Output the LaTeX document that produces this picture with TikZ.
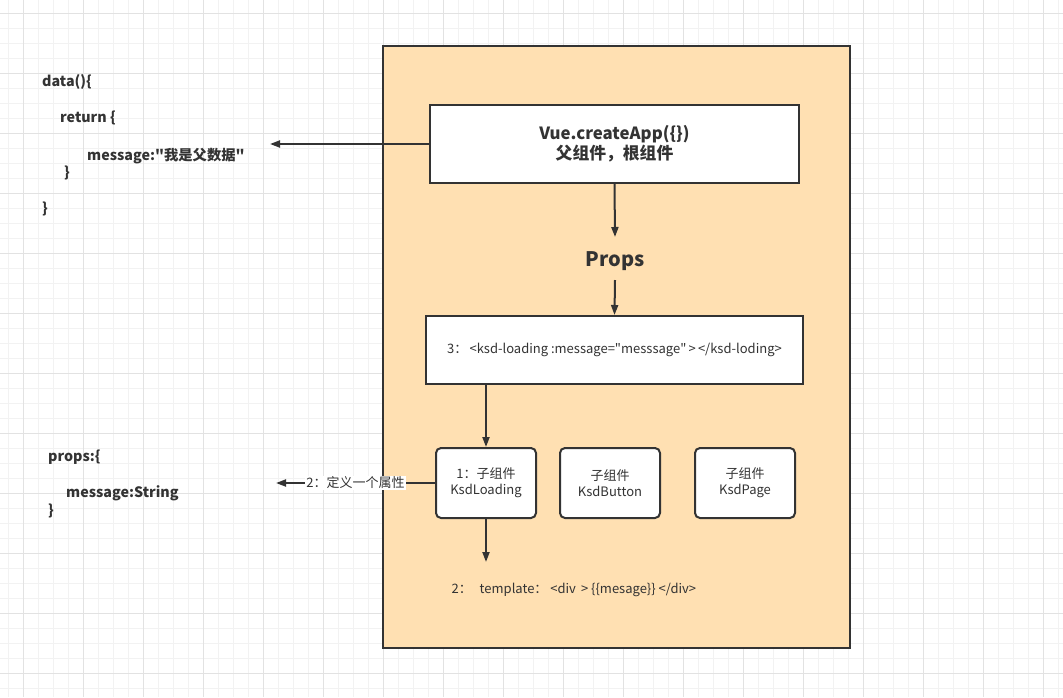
\documentclass[tikz,border=0pt]{standalone}
\usepackage{fontspec}
\setmainfont{Noto Sans CJK SC}[Ligatures=TeXOff]
\usetikzlibrary{arrows.meta}
\newcommand\dq{\symbol{34}}
\definecolor{ink}{HTML}{333333}
\definecolor{peach}{HTML}{FFE0B2}
\definecolor{gridminor}{HTML}{F2F2F2}
\definecolor{gridmajor}{HTML}{E2E2E2}
\tikzset{
  conn/.style={draw=ink, line width=2pt, -{Triangle[length=10pt,width=7pt]}},
  boxw/.style={draw=ink, line width=2pt, fill=white},
  child/.style={boxw, rounded corners=5pt, minimum width=100pt, minimum height=70pt, align=center, font=\fontsize{13}{16}\selectfont, text=ink},
  code/.style={anchor=west, font=\fontsize{14.3}{16}\selectfont\bfseries, text=ink, inner sep=0pt},
}
\begin{document}
\begin{tikzpicture}[x=1pt,y=-1pt]
\useasboundingbox (0,0) rectangle (1063,697);
\fill[white] (0,0) rectangle (1063,697);
% grid
\foreach \i in {0,...,70} {
  \draw[gridminor, line width=1pt] (8.3+15*\i,0) -- (8.3+15*\i,697);
}
\foreach \i in {0,...,47} {
  \draw[gridminor, line width=1pt] (0,-1.7+15*\i) -- (1063,-1.7+15*\i);
}
\foreach \i in {0,...,17} {
  \draw[gridmajor, line width=1pt] (23.3+60*\i,0) -- (23.3+60*\i,697);
}
\foreach \i in {0,...,11} {
  \draw[gridmajor, line width=1pt] (0,13.3+60*\i) -- (1063,13.3+60*\i);
}
% container
\draw[draw=ink, fill=peach, line width=2pt] (383,46) rectangle (850,648);
% nodes
\node[boxw, minimum width=369pt, minimum height=78pt, align=center, font=\fontsize{16.8}{20}\selectfont\bfseries, text=ink] (vue) at (614.5,144) {Vue.createApp(\{\})\\父组件，根组件};
\node[font=\fontsize{20}{24}\selectfont\bfseries, text=ink] (props) at (615,261) {Props};
\node[boxw, minimum width=377pt, minimum height=68pt, font=\fontsize{13}{15}\selectfont, text=ink] (tag) at (614.5,350) {3：\,<ksd-loading :message=\dq messsage\dq\,>\,</ksd-loding>};
\node[child] (c1) at (486,483) {1：子组件\\KsdLoading};
\node[child] (c2) at (610,483) {子组件\\KsdButton};
\node[child] (c3) at (745,483) {子组件\\KsdPage};
\node[anchor=west, font=\fontsize{13}{15}\selectfont, text=ink] (tpl) at (448,590) {2：\ \ \,template：\ <div\,\ >\ \{\{mesage\}\}\ </div>};
\coordinate (leftA) at (270,144);
\coordinate (leftB) at (276,483);
\coordinate (propsTop) at (615,237);
\coordinate (propsBot) at (615,280);
\coordinate (tplTop) at (486,562);
% connectors
\draw[conn] (vue.west) -- (leftA);
\draw[conn] (vue.south) -- (propsTop);
\draw[conn] (propsBot) -- (tag.north);
\draw[conn] (tag.south -| c1.north) -- (c1.north);
\draw[conn] (c1.south) -- (tplTop);
\draw[conn] (c1.west) -- (leftB) node[pos=0.5, fill=white, inner sep=1pt, font=\fontsize{13}{15}\selectfont, text=ink] (lbl) {2：定义一个属性};
% code text
\node[code] (d1) at (42,82) {data()\{};
\node[code] (d2) at (60,118) {return \{};
\node[code] (d3) at (87,156) {message:\dq 我是父数据\dq};
\node[code] (d4) at (64,173) {\}};
\node[code] (d5) at (42,209) {\}};
\node[code] (p1) at (48,457) {props:\{};
\node[code] (p2) at (66,493) {message:String};
\node[code] (p3) at (48,511) {\}};
\end{tikzpicture}
\end{document}
